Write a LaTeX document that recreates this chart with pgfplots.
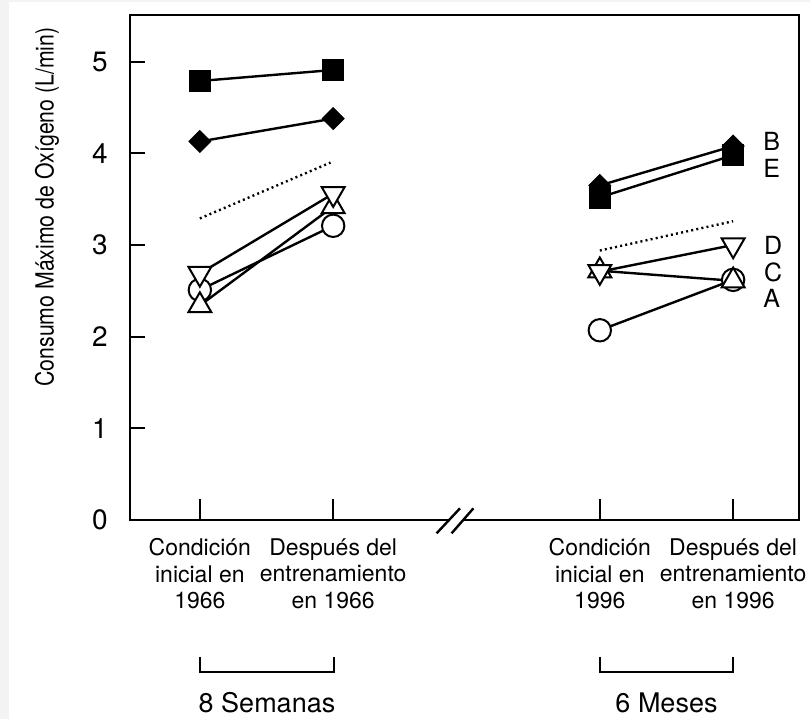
\documentclass[border=0pt]{standalone}
\usepackage{pgfplots}
\pgfplotsset{compat=1.18}
\usepackage{pgfplotstable}
\usepackage{graphicx}
\usepackage{fontspec}
\setmainfont{TeX Gyre Heros}
\definecolor{bggray}{RGB}{243,243,243}

% Subject A (open triangle up)
\pgfplotstableread{
x y
1 2.34
2 3.42
3 nan
4 2.72
5 2.61
}\subjA
% Subject C (open circle)
\pgfplotstableread{
x y
1 2.51
2 3.21
3 nan
4 2.07
5 2.62
}\subjC
% Subject D (open triangle down)
\pgfplotstableread{
x y
1 2.69
2 3.56
3 nan
4 2.71
5 3.00
}\subjD
% Subject B (filled diamond)
\pgfplotstableread{
x y
1 4.13
2 4.38
3 nan
4 3.65
5 4.08
}\subjB
% Subject E (filled square)
\pgfplotstableread{
x y
1 4.79
2 4.91
3 nan
4 3.52
5 3.98
}\subjE
% Mean (dotted)
\pgfplotstableread{
x y
1 3.29
1.98 3.90
3 nan
4 2.94
5 3.26
}\meanline

\begin{document}
\begin{tikzpicture}
\fill[bggray] (-65pt,-99.5pt) rectangle (340pt,260pt);
\fill[white] (-60.5pt,-99.5pt) rectangle (340pt,259pt);
\begin{axis}[
  at={(0,0)}, anchor=south west,
  scale only axis, width=334.5pt, height=252.5pt,
  xmin=0.476, xmax=5.494, ymin=0, ymax=5.51,
  axis line style={line width=1pt, black},
  xtick={1,2,4,5},
  xticklabels={{Condición\\inicial en\\1966},{Después del\\entrenamiento\\en 1966},{Condición\\inicial en\\1996},{Después del\\entrenamiento\\en 1996}},
  xtick style={draw=none},
  ytick={0,1,2,3,4,5},
  ytick pos=left, xtick pos=bottom,
  tick align=inside,
  major tick length=7.5pt,
  ytick style={line width=1pt, black},
  /pgf/number format/assume math mode=true,
  yticklabel style={font=\fontsize{14}{16}\selectfont, inner sep=0pt, xshift=-11pt},
  xticklabel style={font=\fontsize{11.5}{13.25}\selectfont, align=center, inner sep=0pt, yshift=-9pt},
  unbounded coords=jump,
  clip=false,
]
% x tick marks (inward)
\draw[line width=1pt] (axis cs:1,0) -- ++(0pt,10.5pt);
\draw[line width=1pt] (axis cs:2,0) -- ++(0pt,10.5pt);
\draw[line width=1pt] (axis cs:4,0) -- ++(0pt,10.5pt);
\draw[line width=1pt] (axis cs:5,0) -- ++(0pt,10.5pt);
% lines
\addplot[black, line width=1.2pt, dash pattern=on 1pt off 1.6pt, no marks] table {\meanline};
\addplot[black, line width=1.2pt, no marks] table {\subjA};
\addplot[black, line width=1.2pt, no marks] table {\subjC};
\addplot[black, line width=1.2pt, no marks] table {\subjD};
\addplot[black, line width=1.2pt, no marks] table {\subjB};
\addplot[black, line width=1.2pt, no marks] table {\subjE};
% markers
\addplot[only marks, mark=*, mark size=5.6pt, mark options={draw=black, fill=white, line width=1pt}] table {\subjC};
\addplot[only marks, mark=triangle*, mark size=6.6pt, mark options={draw=black, fill=white, line width=1pt}] table {\subjA};
\addplot[only marks, mark=triangle*, mark size=6.6pt, mark options={draw=black, fill=white, line width=1pt, rotate=180}] table {\subjD};
\addplot[only marks, mark=square*, mark size=3.9pt, mark options={draw=black, fill=black, rotate=45}] table {\subjB};
\addplot[only marks, mark=square*, mark size=5.3pt, mark options={draw=black, fill=black}] table {\subjE};
% subject labels
\node[font=\fontsize{12.5}{14}\selectfont] at (axis cs:5.29,4.13) {B};
\node[font=\fontsize{12.5}{14}\selectfont] at (axis cs:5.29,3.84) {E};
\node[font=\fontsize{12.5}{14}\selectfont] at (axis cs:5.30,3.00) {D};
\node[font=\fontsize{12.5}{14}\selectfont] at (axis cs:5.30,2.70) {C};
\node[font=\fontsize{12.5}{14}\selectfont] at (axis cs:5.29,2.42) {A};
\end{axis}
% axis break
\fill[white] (159.3pt,-1.5pt) rectangle (166.8pt,1.5pt);
\draw[line width=1.2pt] (153.3pt,-6.67pt) -- (165pt,5.83pt);
\draw[line width=1.2pt] (160.8pt,-6.67pt) -- (171.7pt,5.83pt);
% y label
\node[rotate=90, font=\fontsize{12.5}{14}\selectfont] at (-41.5pt,156.5pt) {\scalebox{0.85}[1]{Consumo Máximo de Oxígeno (L/min)}};
% brackets
\draw[line width=1.2pt] (35pt,-68.5pt) -- (35pt,-76pt) -- (102pt,-76pt) -- (102pt,-68.5pt);
\draw[line width=1.2pt] (235pt,-68.5pt) -- (235pt,-76pt) -- (301.5pt,-76pt) -- (301.5pt,-68.5pt);
\node[font=\fontsize{13.5}{16}\selectfont] at (68.5pt,-91.5pt) {8 Semanas};
\node[font=\fontsize{13.5}{16}\selectfont] at (268.25pt,-91.5pt) {6 Meses};
\end{tikzpicture}
\end{document}
